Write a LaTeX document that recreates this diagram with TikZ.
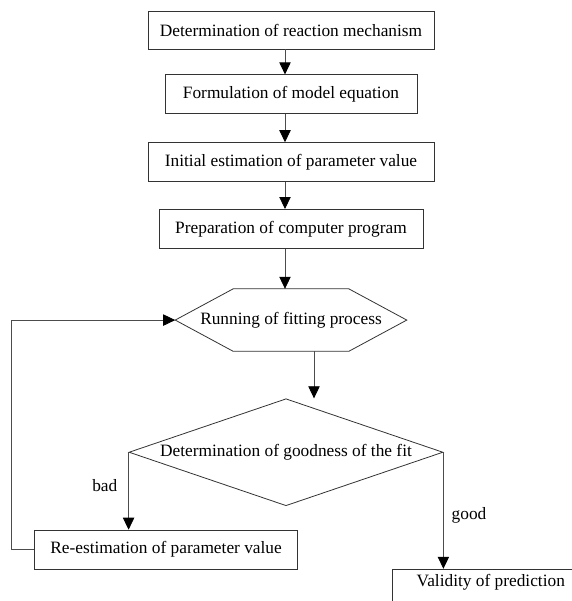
\documentclass[tikz,border=0pt]{standalone}
\usepackage{fontspec}
\setmainfont{Liberation Serif}
\usetikzlibrary{arrows.meta, positioning, shapes.geometric}

\begin{document}
\begin{tikzpicture}[font=\fontsize{13}{15}\selectfont]
\tikzset{
  stage/.style={
    draw=black!80,
    rectangle,
    fill=white,
    line width=0.6pt,
    minimum height=29.25pt,
    inner sep=2pt
  },
  flow/.style={
    draw=black!70,
    line width=0.6pt,
    -{Triangle[length=9pt, width=8.5pt, color=black]}
  },
  lbl/.style={inner sep=0pt}
}
\useasboundingbox (0,0) rectangle (429pt,-450.75pt);
\coordinate (spine) at (213.75pt,0);

% Preparation steps
\node[stage, minimum width=214.5pt, minimum height=28.5pt] (mech) at (218.25pt,-22.5pt) {Determination of reaction mechanism};
\node[stage, minimum width=189pt, below=18.75pt of mech] (model) {Formulation of model equation};
\node[stage, minimum width=214.5pt, below=21pt of model] (init) {Initial estimation of parameter value};
\node[stage, minimum width=198pt, below=20.25pt of init] (prog) {Preparation of computer program};

% Fitting process (hexagon)
\node[minimum width=173.25pt, minimum height=46.5pt, below=30pt of prog] (hexa) {Running of fitting process};
\draw[draw=black!80, line width=0.6pt] (hexa.west) -- ([xshift=43.5pt]hexa.north west) -- ([xshift=-43.5pt]hexa.north east)
  -- (hexa.east) -- ([xshift=-43.5pt]hexa.south east) -- ([xshift=43.5pt]hexa.south west) -- cycle;
\coordinate (hexout) at ([xshift=17.25pt]hexa.south);

% Goodness of the fit
\node[draw=black!80, line width=0.6pt, diamond, aspect=2.93, inner sep=0pt, minimum width=235.5pt, minimum height=80.25pt,
  below=35.25pt of hexa, xshift=-3.75pt] (fit) {Determination of goodness of the fit};

% Outcomes
\node[stage, minimum width=197.25pt, anchor=north] (reest) at ([xshift=28.1pt, yshift=-58.1pt]fit.west) {Re-estimation of parameter value};
\node[stage, minimum width=147pt, anchor=north west, text height=9pt, text depth=25pt, inner ysep=3.75pt] (valid)
  at ([xshift=-38.25pt, yshift=-87.4pt]fit.east) {Validity of prediction};
\node[lbl, anchor=east] (bad) at ([xshift=-8.25pt, yshift=-24.75pt]fit.west) {bad};
\node[lbl, anchor=west] (good) at ([xshift=6pt, yshift=-47.25pt]fit.east) {good};

% Arrows
\draw[flow] (mech.south -| spine) -- (model.north -| spine);
\draw[flow] (model.south -| spine) -- (init.north -| spine);
\draw[flow] (init.south -| spine) -- (prog.north -| spine);
\draw[flow] (prog.south -| spine) -- (hexa.north -| spine);
\draw[flow] (hexout) -- (hexout |- fit.north);
\draw[flow] (fit.west) -- (reest.north -| fit.west);
\draw[flow] (fit.east) -- (valid.north -| fit.east);
\draw[flow] (reest.west) -- ++(-17.25pt,0) |- (hexa.west);

\end{tikzpicture}
\end{document}
